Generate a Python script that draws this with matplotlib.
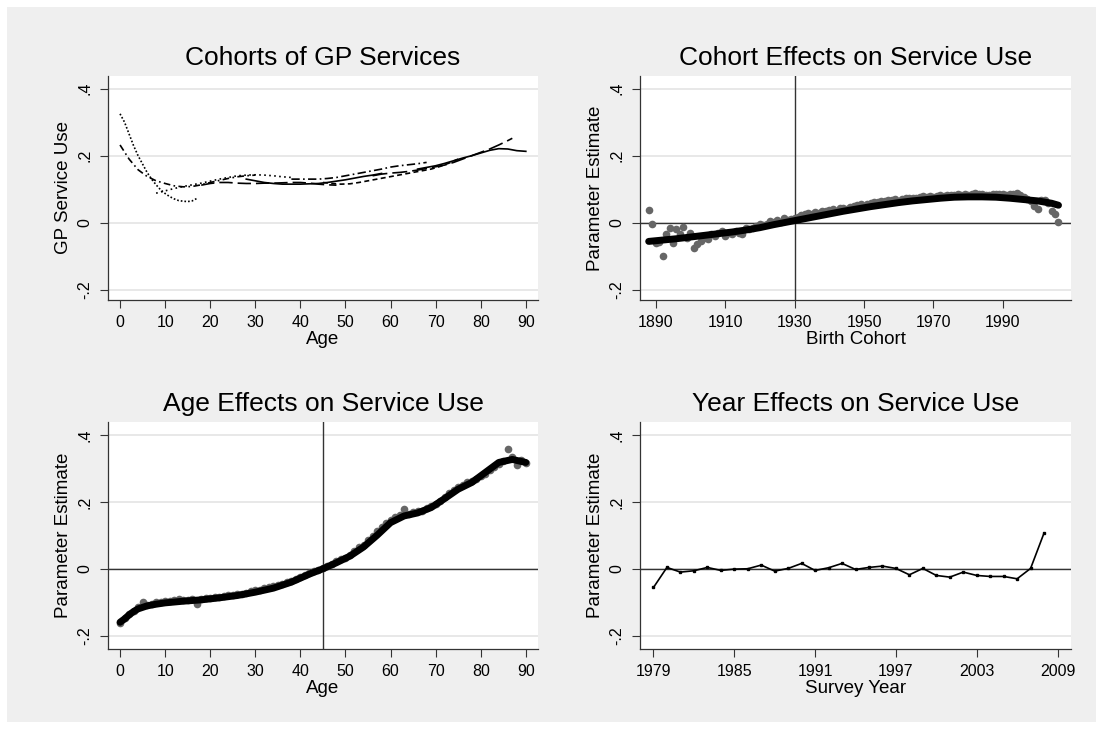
import matplotlib
matplotlib.use("Agg")
import matplotlib.pyplot as plt
from matplotlib.patches import Rectangle

plt.rcParams['font.family'] = ['Liberation Sans', 'DejaVu Sans']

# ---------------- Data ----------------
# Panel 1: cohorts of GP services (age, service use)
c1_age = [0, 1, 2, 3, 4, 5, 6, 7, 8, 9, 10, 11, 12, 13, 14, 15, 16, 17]
c1_val = [0.325, 0.30, 0.265, 0.23, 0.20, 0.175, 0.15, 0.13, 0.113, 0.098, 0.087, 0.078, 0.071, 0.066, 0.064, 0.063, 0.065, 0.072]
c2_age = [0, 2, 4, 6, 8, 10, 12, 14, 16, 18, 20, 22, 24, 26, 28, 30]
c2_val = [0.232, 0.19, 0.158, 0.138, 0.125, 0.117, 0.11, 0.107, 0.108, 0.113, 0.12, 0.126, 0.132, 0.137, 0.14, 0.142]
c3_age = [8, 10, 12, 14, 16, 18, 20, 22, 24, 26, 28, 30, 32, 34, 36, 38]
c3_val = [0.088, 0.095, 0.102, 0.108, 0.113, 0.118, 0.124, 0.13, 0.135, 0.14, 0.142, 0.143, 0.142, 0.14, 0.137, 0.135]
c4_age = [18, 20, 22, 24, 26, 28, 30, 32, 34, 36, 38, 40, 42, 44, 46, 48]
c4_val = [0.112, 0.117, 0.12, 0.12, 0.118, 0.117, 0.117, 0.118, 0.118, 0.119, 0.12, 0.12, 0.118, 0.115, 0.113, 0.112]
c5_age = [28, 30, 32, 34, 36, 38, 40, 42, 44, 46, 48, 50, 52, 54, 56, 58]
c5_val = [0.13, 0.125, 0.12, 0.117, 0.115, 0.115, 0.115, 0.116, 0.117, 0.12, 0.124, 0.128, 0.133, 0.138, 0.142, 0.147]
c6_age = [38, 40, 42, 44, 46, 48, 50, 52, 54, 56, 58, 60, 62, 64, 66, 68]
c6_val = [0.13, 0.13, 0.13, 0.13, 0.132, 0.135, 0.14, 0.145, 0.15, 0.155, 0.16, 0.166, 0.17, 0.173, 0.176, 0.18]
c7_age = [45, 47, 49, 51, 53, 55, 57, 59, 61, 63, 65, 67, 69, 71, 73, 75]
c7_val = [0.12, 0.117, 0.115, 0.116, 0.12, 0.125, 0.13, 0.135, 0.14, 0.145, 0.15, 0.155, 0.16, 0.168, 0.178, 0.19]
c8_age = [56, 58, 60, 62, 64, 66, 68, 70, 72, 74, 76, 78, 80, 82, 84, 86, 87]
c8_val = [0.14, 0.145, 0.148, 0.15, 0.153, 0.157, 0.162, 0.167, 0.172, 0.18, 0.19, 0.2, 0.21, 0.22, 0.232, 0.245, 0.252]
c9_age = [66, 68, 70, 72, 74, 76, 78, 80, 82, 84, 86, 88, 90]
c9_val = [0.16, 0.165, 0.17, 0.177, 0.185, 0.193, 0.2, 0.208, 0.216, 0.221, 0.22, 0.215, 0.213]

# Panel 2: cohort effects
cohort_years = list(range(1888, 2007))
cohort_est = [0.038, -0.003, -0.06, -0.058, -0.1, -0.033, -0.015, -0.06, -0.02, -0.035,
              -0.012, -0.045, -0.03, -0.075, -0.065, -0.055, -0.045, -0.048, -0.035, -0.04,
              -0.03, -0.025, -0.04, -0.03, -0.033, -0.025, -0.03, -0.033, -0.015, -0.02,
              -0.015, -0.01, -0.005, -0.008, -0.003, 0.005, 0.003, 0.008, 0.003, 0.013,
              0.009, 0.011, 0.013, 0.017, 0.023, 0.027, 0.03, 0.025, 0.033, 0.03,
              0.035, 0.035, 0.038, 0.04, 0.035, 0.043, 0.045, 0.041, 0.047, 0.05,
              0.053, 0.055, 0.051, 0.057, 0.06, 0.063, 0.061, 0.065, 0.065, 0.067,
              0.069, 0.07, 0.065, 0.071, 0.075, 0.073, 0.075, 0.075, 0.077, 0.08,
              0.078, 0.08, 0.077, 0.081, 0.083, 0.08, 0.082, 0.083, 0.082, 0.085,
              0.083, 0.085, 0.083, 0.085, 0.088, 0.085, 0.087, 0.083, 0.082, 0.085,
              0.087, 0.085, 0.086, 0.083, 0.085, 0.087, 0.088, 0.084, 0.078, 0.07,
              0.065, 0.05, 0.04, 0.067, 0.068, 0.06, 0.035, 0.025, 0.003]
cohort_fit_x = [1888, 1892, 1896, 1900, 1904, 1908, 1912, 1916, 1920, 1924, 1928, 1932, 1936, 1940,
                1944, 1948, 1952, 1956, 1960, 1964, 1968, 1972, 1976, 1980, 1984, 1988, 1992,
                1996, 2000, 2004, 2006]
cohort_fit_y = [-0.056, -0.052, -0.048, -0.043, -0.038, -0.033, -0.028, -0.022, -0.015, -0.006,
                0.002, 0.010, 0.018, 0.026, 0.034, 0.041, 0.048, 0.054, 0.060, 0.065, 0.069,
                0.073, 0.076, 0.077, 0.077, 0.076, 0.073, 0.069, 0.065, 0.058, 0.052]

# Panel 3: age effects
ages = list(range(0, 91))
age_est = [-0.162, -0.147, -0.136, -0.125, -0.115, -0.1, -0.108, -0.104, -0.1, -0.099,
           -0.097, -0.095, -0.094, -0.09, -0.092, -0.092, -0.089, -0.104, -0.09, -0.088,
           -0.086, -0.084, -0.083, -0.081, -0.079, -0.077, -0.076, -0.075, -0.072, -0.068,
           -0.065, -0.064, -0.058, -0.054, -0.052, -0.048, -0.046, -0.041, -0.036, -0.032,
           -0.024, -0.018, -0.012, -0.008, -0.003, 0.003, 0.009, 0.015, 0.022, 0.028,
           0.032, 0.042, 0.052, 0.064, 0.072, 0.086, 0.098, 0.112, 0.124, 0.136,
           0.146, 0.155, 0.162, 0.178, 0.164, 0.169, 0.172, 0.172, 0.182, 0.188,
           0.194, 0.204, 0.214, 0.226, 0.236, 0.244, 0.252, 0.26, 0.264, 0.269,
           0.276, 0.284, 0.294, 0.305, 0.314, 0.323, 0.358, 0.333, 0.31, 0.325, 0.315]
age_fit_x = [0, 1, 2, 3, 4, 6, 8, 10, 14, 18, 22, 26, 30, 34, 38, 42, 45, 48, 51, 54, 57,
             60, 63, 66, 69, 72, 75, 78, 81, 84, 87, 90]
age_fit_y = [-0.160, -0.150, -0.138, -0.128, -0.120, -0.111, -0.106, -0.102, -0.097, -0.093,
             -0.087, -0.080, -0.070, -0.058, -0.040, -0.016, 0.0, 0.018, 0.038, 0.065, 0.100,
             0.138, 0.158, 0.167, 0.183, 0.210, 0.238, 0.258, 0.288, 0.318, 0.327, 0.318]

# Panel 4: year effects
survey_years = list(range(1979, 2009))
year_est = [-0.056, 0.004, -0.01, -0.006, 0.004, -0.005, -0.001, 0.0, 0.011, -0.007,
            0.001, 0.016, -0.005, 0.003, 0.016, -0.002, 0.004, 0.008, 0.001, -0.018,
            0.001, -0.02, -0.025, -0.01, -0.02, -0.023, -0.023, -0.03, 0.001, 0.107]

ytick_vals = [-0.2, 0, 0.2, 0.4]
ytick_labels = ['-.2', '0', '.2', '.4']
age_ticks = [0, 10, 20, 30, 40, 50, 60, 70, 80, 90]
cohort_ticks = [1890, 1910, 1930, 1950, 1970, 1990]
year_ticks = [1979, 1985, 1991, 1997, 2003, 2009]

# ---------------- Figure ----------------
W, H = 1103, 729
fig = plt.figure(figsize=(W / 100, H / 100), dpi=100, facecolor='white')
fig.patches.append(Rectangle((7 / W, 7 / H), (1096 - 7) / W, (722 - 7) / H,
                             transform=fig.transFigure, facecolor='#efefef',
                             edgecolor='none', zorder=-10))

def make_ax(x0, x1, ytop, ybot):
    ax = fig.add_axes([x0 / W, (H - ybot) / H, (x1 - x0) / W, (ybot - ytop) / H])
    ax.set_facecolor('white')
    for s in ['top', 'right']:
        ax.spines[s].set_visible(False)
    for s in ['left', 'bottom']:
        ax.spines[s].set_color('#333333')
        ax.spines[s].set_linewidth(0.9)
    ax.set_yticks(ytick_vals)
    ax.set_yticklabels(ytick_labels)
    ax.tick_params(axis='y', labelrotation=90, length=6, width=0.8, color='#333333',
                   labelsize=11.5, pad=5)
    for lab in ax.get_yticklabels():
        lab.set_va('center')
    ax.tick_params(axis='x', length=5.5, width=0.8, color='#333333', labelsize=11.5, pad=5)
    ax.grid(axis='y', color='#e6e6e6', linewidth=1.3)
    ax.set_axisbelow(True)
    return ax

ax1 = make_ax(108, 538, 76, 300)
ax2 = make_ax(640, 1071, 76, 300)
ax3 = make_ax(108, 538, 422, 649)
ax4 = make_ax(640, 1071, 422, 649)

title_kw = dict(fontsize=19, pad=8)
label_kw = dict(fontsize=13.5)

# Panel 1
styles = [(0, (1, 1.2)), (0, (4, 2, 1, 2)), (0, (1, 2)), (0, (8, 3)), '-',
          (0, (5, 2, 1, 2)), (0, (3, 2)), (0, (9, 3)), '-']
cohorts = [(c1_age, c1_val), (c2_age, c2_val), (c3_age, c3_val), (c4_age, c4_val),
           (c5_age, c5_val), (c6_age, c6_val), (c7_age, c7_val), (c8_age, c8_val),
           (c9_age, c9_val)]
for (a, v), ls in zip(cohorts, styles):
    ax1.plot(a, v, color='black', linewidth=1.2, linestyle=ls)
ax1.set_xlim(-2.67, 92.7)
ax1.set_ylim(-0.231, 0.438)
ax1.set_xticks(age_ticks)
ax1.set_title('Cohorts of GP Services', **title_kw)
ax1.set_xlabel('Age', labelpad=1, **label_kw)
ax1.set_ylabel('GP Service Use', labelpad=4, **label_kw)

# Panel 2
ax2.axhline(0, color='#333333', linewidth=1.0, zorder=1)
ax2.axvline(1930, color='#333333', linewidth=1.0, zorder=1)
ax2.plot(cohort_years, cohort_est, 'o', color='#666666', markersize=5.5, markeredgewidth=0, zorder=2)
ax2.plot(cohort_fit_x, cohort_fit_y, color='black', linewidth=5, solid_capstyle='round', zorder=3)
ax2.set_xlim(1885.5, 2009.6)
ax2.set_ylim(-0.231, 0.438)
ax2.set_xticks(cohort_ticks)
ax2.set_title('Cohort Effects on Service Use', **title_kw)
ax2.set_xlabel('Birth Cohort', labelpad=1, **label_kw)
ax2.set_ylabel('Parameter Estimate', labelpad=4, **label_kw)

# Panel 3
ax3.axhline(0, color='#333333', linewidth=1.0, zorder=1)
ax3.axvline(45, color='#333333', linewidth=1.0, zorder=1)
ax3.plot(ages, age_est, 'o', color='#666666', markersize=5.5, markeredgewidth=0, zorder=2)
ax3.plot(age_fit_x, age_fit_y, color='black', linewidth=5, solid_capstyle='round', zorder=3)
ax3.set_xlim(-2.67, 92.7)
ax3.set_ylim(-0.240, 0.439)
ax3.set_xticks(age_ticks)
ax3.set_title('Age Effects on Service Use', **title_kw)
ax3.set_xlabel('Age', labelpad=1, **label_kw)
ax3.set_ylabel('Parameter Estimate', labelpad=4, **label_kw)

# Panel 4
ax4.axhline(0, color='#333333', linewidth=1.0, zorder=1)
ax4.plot(survey_years, year_est, '-s', color='black', linewidth=1.2, markersize=1.6, zorder=3)
ax4.set_xlim(1978.0, 2010.0)
ax4.set_ylim(-0.240, 0.439)
ax4.set_xticks(year_ticks)
ax4.set_title('Year Effects on Service Use', **title_kw)
ax4.set_xlabel('Survey Year', labelpad=1, **label_kw)
ax4.set_ylabel('Parameter Estimate', labelpad=4, **label_kw)

fig.savefig('out.png', dpi=100, facecolor='white')
